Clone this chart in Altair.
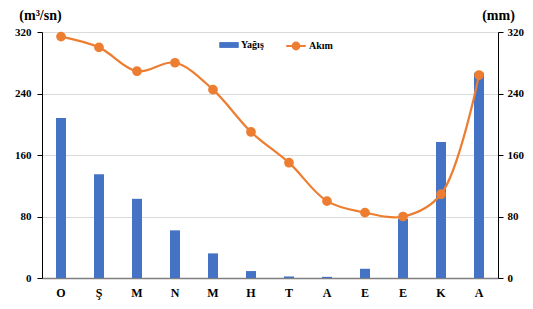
import altair as alt
import pandas as pd

months = ["O", "Ş", "M", "N", "M", "H", "T", "A", "E", "E", "K", "A"]
yagis = [208, 135, 103, 62, 32, 9, 2, 1.5, 12, 77, 177, 267]
akim = [314, 300, 269, 280, 245, 190, 150, 100, 85, 80, 109, 264]

df = pd.DataFrame({
    "i": list(range(len(months))),
    "ay": months,
    "Yağış": yagis,
    "Akım": akim,
    "s1": ["Yağış"] * len(months),
    "s2": ["Akım"] * len(months),
})

FONT = "Liberation Serif"
BLUE = "#4472C4"
ORANGE = "#ED7D31"
label_expr = "[" + ",".join("'" + m + "'" for m in months) + "][datum.value]"

x = alt.X("i:O", title=None,
          scale=alt.Scale(type="band", paddingInner=0, paddingOuter=0),
          axis=alt.Axis(labelExpr=label_expr, labelAngle=0, ticks=False,
                        domainColor="#7f7f7f", domainWidth=1.5,
                        labelFont=FONT, labelFontWeight="bold", labelFontSize=12,
                        labelColor="#000", labelPadding=9))

bars = alt.Chart(df).mark_bar(size=10).encode(
    x=x,
    y=alt.Y("Yağış:Q", scale=alt.Scale(domain=[0, 320]),
            axis=alt.Axis(orient="right", values=[0, 80, 160, 240, 320], grid=False,
                          title="(mm)", titleAngle=0, titleAlign="center",
                          titleBaseline="alphabetic", titleX=0, titleY=-13,
                          titleFont=FONT, titleFontSize=14, titleFontWeight="bold",
                          titleColor="#000",
                          labelFont=FONT, labelFontWeight="bold", labelFontSize=11,
                          labelColor="#000", domainColor="#000", tickColor="#000",
                          tickSize=5, labelPadding=4)),
    fill=alt.Fill("s1:N", title=None,
                  scale=alt.Scale(domain=["Yağış"], range=[BLUE]),
                  legend=alt.Legend(orient="none", legendX=177, legendY=3,
                                    symbolType="M-1,-0.3H1V0.3H-1Z", symbolSize=380,
                                    symbolStrokeWidth=0,
                                    labelFont=FONT, labelFontSize=10,
                                    labelFontWeight="bold", labelColor="#000",
                                    labelOffset=2)),
)

line = alt.Chart(df).mark_line(
    interpolate="catmull-rom", strokeWidth=2.2,
    point=alt.OverlayMarkDef(filled=True, size=60, color=ORANGE),
).encode(
    x=x,
    y=alt.Y("Akım:Q", scale=alt.Scale(domain=[0, 320]),
            axis=alt.Axis(orient="left", values=[0, 80, 160, 240, 320], grid=True,
                          gridColor="#d9d9d9",
                          title="(m³/sn)", titleAngle=0, titleAlign="center",
                          titleBaseline="alphabetic", titleX=-2, titleY=-13,
                          titleFont=FONT, titleFontSize=14, titleFontWeight="bold",
                          titleColor="#000",
                          labelFont=FONT, labelFontWeight="bold", labelFontSize=11,
                          labelColor="#000", domainColor="#000", tickColor="#000",
                          tickSize=5, labelPadding=6)),
    stroke=alt.Stroke("s2:N", title=None,
                      scale=alt.Scale(domain=["Akım"], range=[ORANGE]),
                      legend=alt.Legend(orient="none", legendX=243, legendY=3,
                                        symbolType="M-1,0H1M-0.35,0A0.35,0.35 0 1,0 0.35,0A0.35,0.35 0 1,0 -0.35,0",
                                        symbolSize=380, symbolStrokeWidth=2,
                                        symbolFillColor=ORANGE,
                                        labelFont=FONT, labelFontSize=10,
                                        labelFontWeight="bold", labelColor="#000",
                                        labelOffset=2)),
)

chart = alt.layer(bars, line).resolve_scale(y="independent").properties(
    width=456, height=246,
    autosize=alt.AutoSizeParams(type="none"),
    padding={"left": 34, "top": 24, "right": 27, "bottom": 23},
).configure_view(stroke=None).configure(background="white")

chart.save("out.html", embed_options={"renderer": "svg", "actions": False})
